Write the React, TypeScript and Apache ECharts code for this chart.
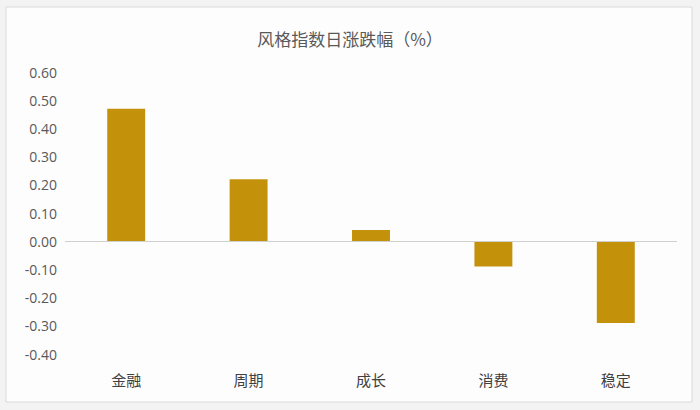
import React, { useEffect, useRef } from "react";
import * as echarts from "echarts";

const categories = ["金融", "周期", "成长", "消费", "稳定"];
const values = [0.47, 0.22, 0.04, -0.09, -0.29];
const titleText = "风格指数日涨跌幅（%）";

export default function App() {
  const ref = useRef<HTMLDivElement>(null);
  useEffect(() => {
    if (!ref.current) return;
    const chart = echarts.init(ref.current, undefined, { renderer: "svg" });
    chart.setOption({
      animation: false,
      backgroundColor: "#f3f3f3",
      textStyle: { fontFamily: "Noto Sans CJK SC, Noto Sans, sans-serif" },
      graphic: [
        {
          type: "rect",
          z: -10,
          shape: { x: 6, y: 7, width: 686, height: 395 },
          style: { fill: "#fdfdfe", stroke: "#d9d9d9", lineWidth: 1 },
        },
      ],
      title: {
        text: titleText,
        left: "center",
        top: 25,
        textStyle: {
          fontSize: 17,
          fontWeight: "normal",
          color: "#595959",
          fontFamily: "Noto Sans CJK SC",
        },
      },
      grid: { left: 65, right: 23, top: 72, bottom: 56 },
      xAxis: {
        type: "category",
        data: categories,
        axisLine: { show: false, onZero: false },
        axisTick: { show: false },
        axisLabel: {
          margin: 18,
          fontSize: 15,
          color: "#404040",
          fontFamily: "Noto Sans CJK SC",
        },
      },
      yAxis: {
        type: "value",
        min: -0.4,
        max: 0.6,
        interval: 0.1,
        splitLine: { show: false },
        axisLine: { show: false },
        axisTick: { show: false },
        axisLabel: {
          margin: 8,
          fontSize: 14,
          color: "#595959",
          fontFamily: "Open Sans",
          formatter: (v: number) => v.toFixed(2),
        },
      },
      series: [
        {
          type: "bar",
          data: values,
          barWidth: "31%",
          itemStyle: { color: "#c4920a" },
          markLine: {
            silent: true,
            symbol: ["none", "none"],
            label: { show: false },
            lineStyle: { color: "#d0d0d0", type: "solid", width: 1 },
            data: [{ yAxis: 0 }],
          },
        },
      ],
    });
    return () => chart.dispose();
  }, []);
  return (
    <div
      ref={ref}
      style={{ position: "fixed", left: 0, top: 0, width: 700, height: 410 }}
    />
  );
}
